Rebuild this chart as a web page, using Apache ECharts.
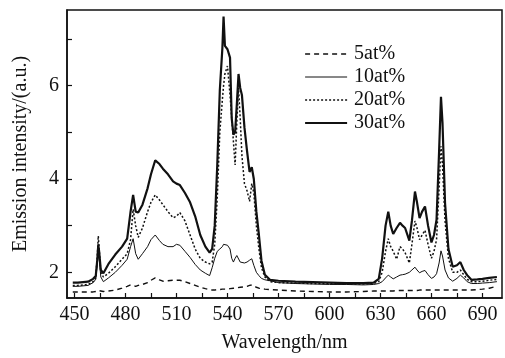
<!DOCTYPE html>
<html>
<head>
<meta charset="utf-8">
<script src="https://cdn.jsdelivr.net/npm/echarts@6/dist/echarts.min.js"></script>
<style>
html,body{margin:0;padding:0;background:#fff;}
#chart{width:505px;height:358px;}
</style>
</head>
<body>
<div id="chart"></div>
<script>
// Wavelength grid (nm), shared by all series
var wavelength = [449,452,455,458,461,462.5,463.5,464,464.5,465.5,
  467,470,474,478,481,483,484.5,486,487.5,490,
  493,495,497.5,500,502,505,508,510,512,515,
  518,521,524,527,529.5,531,532.5,534,535.5,537,
  537.7,538.5,540,541.5,542.5,543.5,544.5,545.5,546.5,547.5,
  548.5,550,551.5,553,554.3,555.5,557,558.5,560,562,
  565,570,580,590,600,610,620,626,629,631,
  633,634.6,636,637.5,639.5,641.5,643,644.5,647,648.5,
  650.3,651.5,653,654.5,656.2,658,660,661.5,663,664.5,
  665.6,666.5,668,670,672.5,675,677,679,681,683.5,
  687,690,694,698.5];

var seriesNames = ['5at%','10at%','20at%','30at%'];

var conc5 = [1.58,1.58,1.58,1.58,1.58,1.59,1.60,1.61,1.60,1.60,
  1.59,1.60,1.62,1.66,1.70,1.73,1.72,1.70,1.72,1.74,
  1.78,1.83,1.88,1.84,1.81,1.82,1.83,1.83,1.83,1.80,
  1.76,1.72,1.68,1.65,1.63,1.62,1.62,1.63,1.63,1.64,
  1.64,1.64,1.64,1.65,1.65,1.66,1.66,1.67,1.67,1.68,
  1.68,1.69,1.70,1.72,1.73,1.71,1.68,1.66,1.65,1.64,
  1.63,1.62,1.60,1.59,1.58,1.58,1.59,1.60,1.60,1.60,
  1.60,1.60,1.60,1.60,1.61,1.61,1.61,1.61,1.61,1.61,
  1.61,1.61,1.62,1.62,1.62,1.62,1.62,1.62,1.62,1.62,
  1.62,1.62,1.62,1.62,1.62,1.62,1.62,1.62,1.62,1.62,
  1.63,1.64,1.66,1.70];

var conc10 = [1.70,1.70,1.71,1.72,1.78,1.85,2.20,2.50,2.30,1.90,
  1.80,1.88,2.00,2.15,2.28,2.55,2.72,2.40,2.28,2.40,
  2.55,2.70,2.80,2.68,2.60,2.55,2.55,2.60,2.58,2.45,
  2.32,2.17,2.05,1.98,1.93,2.10,2.30,2.45,2.50,2.55,
  2.60,2.60,2.58,2.50,2.30,2.22,2.30,2.36,2.32,2.22,
  2.20,2.20,2.22,2.26,2.29,2.15,2.00,1.93,1.87,1.84,
  1.82,1.78,1.76,1.75,1.74,1.74,1.73,1.74,1.76,1.80,
  1.88,1.94,1.90,1.86,1.90,1.94,1.95,1.96,2.00,2.05,
  2.11,2.05,1.99,2.02,2.04,1.95,1.87,1.90,1.97,2.20,
  2.46,2.35,2.05,1.88,1.81,1.87,1.94,1.88,1.80,1.76,
  1.76,1.77,1.78,1.80];

var conc20 = [1.72,1.72,1.73,1.74,1.80,1.88,2.40,2.78,2.50,2.00,
  1.90,1.98,2.12,2.28,2.40,2.70,3.35,3.00,2.75,2.95,
  3.30,3.50,3.66,3.55,3.45,3.30,3.17,3.20,3.28,3.10,
  2.80,2.50,2.30,2.22,2.18,2.22,2.60,3.60,5.00,5.70,
  6.00,6.25,6.42,5.80,5.30,4.80,4.30,5.20,5.95,5.30,
  4.50,3.90,3.75,3.52,3.90,3.70,3.00,2.50,2.10,1.90,
  1.80,1.78,1.77,1.76,1.76,1.75,1.75,1.76,1.80,2.00,
  2.45,2.72,2.55,2.45,2.28,2.55,2.50,2.42,2.20,2.60,
  3.10,2.95,2.70,2.80,2.90,2.60,2.30,2.45,2.70,3.80,
  4.70,4.30,3.10,2.30,2.00,2.00,2.05,1.95,1.85,1.80,
  1.80,1.81,1.83,1.85];

var conc30 = [1.78,1.78,1.79,1.80,1.86,1.92,2.30,2.60,2.45,2.05,
  1.98,2.18,2.38,2.55,2.72,3.30,3.66,3.30,3.28,3.45,
  3.80,4.10,4.40,4.32,4.22,4.10,3.95,3.90,3.87,3.70,
  3.50,3.20,2.80,2.55,2.42,2.50,3.00,4.30,5.90,6.80,
  7.48,6.85,6.78,6.60,5.30,4.95,5.00,5.60,6.25,5.95,
  5.80,5.10,4.60,4.15,4.25,4.00,3.30,2.80,2.25,1.95,
  1.84,1.82,1.80,1.79,1.78,1.77,1.77,1.78,1.86,2.30,
  3.00,3.30,3.00,2.82,2.95,3.06,3.00,2.95,2.68,3.10,
  3.73,3.50,3.16,3.30,3.41,3.00,2.64,2.80,3.13,4.60,
  5.76,5.20,3.48,2.50,2.12,2.15,2.22,2.05,1.94,1.84,
  1.85,1.86,1.88,1.90];

var xLabelValues = [450,480,510,540,570,600,630,660,690];
var xTickValues = [450,465,480,495,510,525,540,555,570,585,600,615,630,645,660,675,690];
var yLabelValues = [2,4,6];
var yTickValues = [2,3,4,5,6,7];

function zip(xs, ys){ return xs.map(function(x,i){ return [x, ys[i]]; }); }

var FONT = '"Liberation Serif","Times New Roman",serif';
var INK = '#111';
var lineStyles = [
  {color:INK, width:1.4, type:[5,4]},
  {color:INK, width:1.0, type:'solid'},
  {color:INK, width:1.5, type:[2,2]},
  {color:INK, width:2.2, type:'solid'}
];
var seriesValues = [conc5, conc10, conc20, conc30];

var chart = echarts.init(document.getElementById('chart'), null, {renderer:'canvas'});
chart.setOption({
  backgroundColor:'#fff',
  animation:false,
  grid:{left:67, top:10, right:3, bottom:55, show:true, borderColor:INK, borderWidth:1.5, backgroundColor:'transparent'},
  legend:{
    orient:'vertical', left:299, top:39, itemWidth:42, itemHeight:12, itemGap:3,
    data:seriesNames.map(function(n,i){ return {name:n, lineStyle:lineStyles[i]}; }),
    itemStyle:{color:'transparent', borderColor:'transparent', borderWidth:0, opacity:0},
    textStyle:{fontFamily:FONT, fontSize:20, color:INK, lineHeight:20, padding:[0,0,0,2]}
  },
  xAxis:{
    type:'value', min:445.6, max:701.5,
    name:'Wavelength/nm', nameLocation:'middle', nameGap:35,
    nameTextStyle:{fontFamily:FONT, fontSize:20, color:INK},
    axisLine:{lineStyle:{color:INK, width:1.5}},
    axisTick:{inside:true, length:5, customValues:xTickValues, lineStyle:{color:INK, width:1.2}},
    axisLabel:{customValues:xLabelValues, fontFamily:FONT, fontSize:20, color:INK, margin:7},
    splitLine:{show:false}
  },
  yAxis:{
    type:'value', min:1.45, max:7.62,
    name:'Emission intensity/(a.u.)', nameLocation:'middle', nameGap:36,
    nameTextStyle:{fontFamily:FONT, fontSize:20, color:INK},
    axisLine:{lineStyle:{color:INK, width:1.5}},
    axisTick:{inside:true, length:5, customValues:yTickValues, lineStyle:{color:INK, width:1.2}},
    axisLabel:{customValues:yLabelValues, fontFamily:FONT, fontSize:20, color:INK, margin:8},
    splitLine:{show:false}
  },
  series:seriesNames.map(function(n,i){
    return {name:n, type:'line', data:zip(wavelength, seriesValues[i]), showSymbol:false, symbol:'none',
      lineStyle:lineStyles[i], itemStyle:{color:INK}};
  })
});
</script>
</body>
</html>
